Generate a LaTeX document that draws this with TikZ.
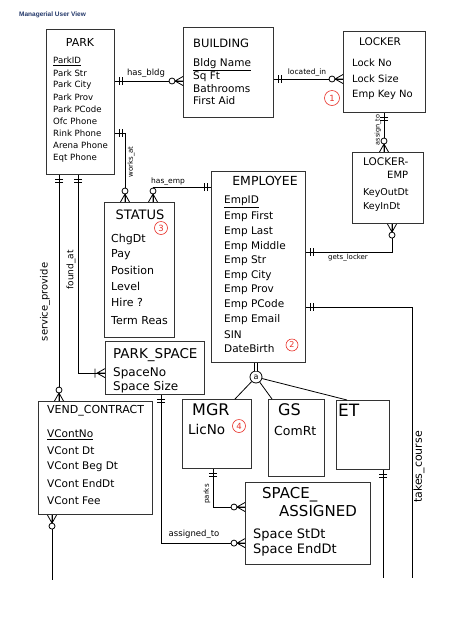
\documentclass[tikz,border=0pt]{standalone}
\usepackage{fontspec}
\setmainfont{DejaVu Sans}
\newfontfamily\hdrfont{Liberation Sans}
\usetikzlibrary{calc}
\newcommand{\myfs}[1]{\fontsize{#1}{#1}\selectfont}
\definecolor{hdrblue}{HTML}{23386A}
\definecolor{redmark}{HTML}{E8322A}
\begin{document}
\begin{tikzpicture}[x=1pt,y=-1pt,
  ent/.style={draw=black!80, line width=1.1pt, anchor=north west, inner sep=0},
  txt/.style={inner sep=0, anchor=west},
  conn/.style={line width=0.8pt},
  redc/.style={circle, draw=redmark, text=redmark, line width=0.6pt, inner sep=0, minimum size=13pt, font=\myfs{8.5}},
  erone/.pic={\draw[conn] (4,-4)--(4,4) (7,-4)--(7,4);},
  ermanyO/.pic={\draw[conn] (0,-4.5)--(8,0)--(0,4.5) (0,0)--(8,0); \draw[conn,fill=white] (11,0) circle (3);},
  ermanyI/.pic={\draw[conn] (0,-4.5)--(8,0)--(0,4.5) (0,0)--(8,0) (10,-4.5)--(10,4.5);}
]
\useasboundingbox[fill=white] (0,0) rectangle (456,630);

\node[txt, font=\hdrfont\bfseries\myfs{6.5}, text=hdrblue] (title) at (19,15) {Managerial User View};

% ---------- entity boxes ----------
\node[ent, minimum width=68pt, minimum height=145pt] (park) at (46,29) {};
\node[ent, minimum width=90pt, minimum height=90pt] (bldg) at (183,27) {};
\node[ent, minimum width=82pt, minimum height=81pt] (locker) at (343,31) {};
\node[ent, minimum width=71pt, minimum height=71pt] (lockemp) at (352,152) {};
\node[ent, minimum width=94pt, minimum height=191pt] (emp) at (211,171) {};
\node[ent, minimum width=70pt, minimum height=135pt] (status) at (104,202) {};
\node[ent, minimum width=99pt, minimum height=53pt] (pspace) at (105,341) {};
\node[ent, minimum width=114pt, minimum height=113pt] (vend) at (38,401) {};
\node[ent, minimum width=69pt, minimum height=69pt] (mgr) at (182,399) {};
\node[ent, minimum width=56pt, minimum height=77pt] (gs) at (268,399) {};
\node[ent, minimum width=53pt, minimum height=69pt] (et) at (336,400) {};
\node[ent, minimum width=125pt, minimum height=82pt] (sa) at (245,482) {};

% ---------- entity texts ----------
% PARK
\node[inner sep=0, font=\myfs{11}] (parkT) at (80,42) {PARK};
\foreach \t [count=\i] in {\underline{ParkID}, Park Str, Park City, Park Prov, Park PCode, Ofc Phone, Rink Phone, Arena Phone, Eqt Phone}
  \node[txt, font=\myfs{8.6}] (parkA\i) at (53,{61+(\i-1)*12.1}) {\t};
% BUILDING
\node[txt, font=\myfs{11.5}] (bldgT) at (193,43) {BUILDING};
\foreach \t [count=\i] in {\underline{Bldg Name}, Sq Ft, Bathrooms, First Aid}
  \node[txt, font=\myfs{10.5}] (bldgA\i) at (193,{65+(\i-1)*12}) {\t};
% LOCKER
\node[inner sep=0, font=\myfs{10.5}] (lockerT) at (380,42) {LOCKER};
\foreach \t [count=\i] in {Lock No, Lock Size, Emp Key No}
  \node[txt, font=\myfs{10}] (lockerA\i) at (352,{63+(\i-1)*16}) {\t};
\node[redc, minimum size=15pt] (r1) at (332,98) {1};
% LOCKER-EMP
\node[txt, font=\myfs{10.5}] (lockempT1) at (363,162) {LOCKER-};
\node[txt, font=\myfs{10}] (lockempT2) at (387,175) {EMP};
\node[txt, font=\myfs{9.5}] (lockempA1) at (363,193) {KeyOutDt};
\node[txt, font=\myfs{9.5}] (lockempA2) at (363,207) {KeyInDt};
% EMPLOYEE
\node[inner sep=0, font=\myfs{12.5}] (empT) at (265,181) {EMPLOYEE};
\foreach \t [count=\i] in {\underline{EmpID}, Emp First, Emp Last, Emp Middle, Emp Str, Emp City, Emp Prov, Emp PCode, Emp Email, SIN, DateBirth}
  \node[txt, font=\myfs{10.5}] (empA\i) at (224,{202+(\i-1)*14.7}) {\t};
\node[redc, minimum size=12pt, font=\myfs{8}] (r2) at (292,345) {2};
% STATUS
\node[inner sep=0, font=\myfs{13}] (statusT) at (140,215) {STATUS};
\foreach \t/\y [count=\i] in {ChgDt/239, Pay/255, Position/270, Level/286, Hire ?/302, Term Reas/321}
  \node[txt, font=\myfs{11}] (statusA\i) at (111,\y) {\t};
\node[redc] (r3) at (161,228) {3};
% PARK_SPACE
\node[txt, font=\myfs{13.5}] (pspaceT) at (113,355) {PARK\_SPACE};
\node[txt, font=\myfs{12}] (pspaceA1) at (113,373) {SpaceNo};
\node[txt, font=\myfs{12}] (pspaceA2) at (113,387) {Space Size};
% VEND_CONTRACT
\node[txt, font=\myfs{11}] (vendT) at (47,411) {VEND\_CONTRACT};
\foreach \t/\y [count=\i] in {\underline{VContNo}/435, VCont Dt/451, VCont Beg Dt/467, VCont EndDt/484, VCont Fee/501}
  \node[txt, font=\myfs{10.5}] (vendA\i) at (47,\y) {\t};
% MGR / GS / ET
\node[txt, font=\myfs{16}] (mgrT) at (192,410) {MGR};
\node[txt, font=\myfs{13.5}] (mgrA) at (188,429) {LicNo};
\node[redc] (r4) at (239,426) {4};
\node[txt, font=\myfs{16}] (gsT) at (278,410) {GS};
\node[txt, font=\myfs{12.5}] (gsA) at (274,431) {ComRt};
\node[txt, font=\myfs{17}] (etT) at (338,410) {ET};
% SPACE_ASSIGNED
\node[txt, font=\myfs{15}] (saT1) at (262,495) {SPACE\_};
\node[txt, font=\myfs{15}] (saT2) at (279,511) {ASSIGNED};
\node[txt, font=\myfs{13}] (saA1) at (253,535) {Space StDt};
\node[txt, font=\myfs{13}] (saA2) at (253,550) {Space EndDt};

% ---------- connectors ----------
% has_bldg
\coordinate (hb1) at ($(park.north east)+(0,52)$);
\draw[conn] (hb1) -- (hb1 -| bldg.west);
\pic at (hb1) {erone};
\pic[rotate=180] at (hb1 -| bldg.west) {ermanyO};
\node[inner sep=0, anchor=south, font=\myfs{8.5}] (lhb) at (146,78) {has\_bldg};
% located_in
\coordinate (li1) at ($(bldg.north east)+(0,52)$);
\draw[conn] (li1) -- (li1 -| locker.west);
\pic at (li1) {erone};
\pic[rotate=180] at (li1 -| locker.west) {ermanyO};
\node[inner sep=0, anchor=south, font=\myfs{7.5}] (lli) at (307,76) {located\_in};
% assign_to
\coordinate (as1) at ($(locker.south west)+(41,0)$);
\draw[conn] (as1) -- (as1 |- lockemp.north);
\pic[rotate=-90] at (as1) {erone};
\pic[rotate=90] at (as1 |- lockemp.north) {ermanyO};
\node[inner sep=0, rotate=90, font=\myfs{6.5}] (las) at (378,130) {assign\_to};
% gets_locker
\coordinate (gl1) at ($(emp.north east)+(0,81)$);
\coordinate (gl2) at ($(lockemp.south west)+(40,0)$);
\draw[conn] (gl1) -| (gl2);
\pic at (gl1) {erone};
\pic[rotate=-90] at (gl2) {ermanyO};
\node[inner sep=0, anchor=north, font=\myfs{7}] (lgl) at (348,254) {gets\_locker};
% works_at
\coordinate (wa1) at ($(park.north east)+(0,104)$);
\coordinate (wa2) at ($(status.north west)+(21,0)$);
\draw[conn] (wa1) -| (wa2);
\pic at (wa1) {erone};
\pic[rotate=90] at (wa2) {ermanyO};
\node[inner sep=0, rotate=90, font=\myfs{7}] (lwa) at (131,162) {works\_at};
% has_emp
\coordinate (he1) at ($(emp.north west)+(0,16)$);
\coordinate (he2) at ($(status.north west)+(49,0)$);
\draw[conn] (he1) -| (he2);
\pic[rotate=180] at (he1) {erone};
\pic[rotate=90] at (he2) {ermanyO};
\node[inner sep=0, anchor=south, font=\myfs{7.5}] (lhe) at (168,185) {has\_emp};
% service_provide
\coordinate (sp1) at ($(park.south west)+(13,0)$);
\draw[conn] (sp1) -- (sp1 |- vend.north);
\pic[rotate=-90] at (sp1) {erone};
\pic[rotate=90] at (sp1 |- vend.north) {ermanyO};
\node[inner sep=0, rotate=90, font=\myfs{10}] (lsp) at (45,302) {service\_provide};
% found_at
\coordinate (fa1) at ($(park.south west)+(32,0)$);
\coordinate (fa2) at ($(pspace.south west)+(0,-22)$);
\draw[conn] (fa1) |- (fa2);
\pic[rotate=-90] at (fa1) {erone};
\pic[rotate=180] at (fa2) {ermanyI};
\node[inner sep=0, rotate=90, font=\myfs{9}] (lfa) at (71,270) {found\_at};
% vend contract bottom
\coordinate (vb1) at ($(vend.south west)+(14,0)$);
\coordinate (vb2) at (52,580);
\draw[conn] (vb1) -- (vb2);
\pic[rotate=-90] at (vb1) {ermanyO};
% assigned_to
\coordinate (at1) at ($(pspace.south west)+(56,0)$);
\coordinate (at2) at ($(sa.south west)+(0,-22)$);
\draw[conn] (at1) |- (at2);
\pic[rotate=-90] at (at1) {erone};
\pic[rotate=180] at (at2) {ermanyO};
\node[inner sep=0, anchor=south, font=\myfs{8.5}] (lat) at (194,539) {assigned\_to};
% parks
\coordinate (pk1) at ($(mgr.south west)+(31,0)$);
\coordinate (pk2) at ($(sa.north west)+(0,25)$);
\draw[conn] (pk1) |- (pk2);
\pic[rotate=-90] at (pk1) {erone};
\pic[rotate=180] at (pk2) {ermanyO};
\node[inner sep=0, rotate=90, font=\myfs{7}] (lpk) at (207,494) {parks};
% ISA
\node[circle, draw, line width=0.8pt, inner sep=0, minimum size=12pt, font=\myfs{8}] (isa) at (256,377) {a};
\draw[conn, double, double distance=1.6pt] (emp.south -| isa) -- (isa);
\coordinate (im) at ($(mgr.north west)+(53,0)$);
\coordinate (ig) at ($(gs.north west)+(4,0)$);
\coordinate (ie) at ($(et.north west)+(11,0)$);
\draw[conn] (isa) -- (im);
\draw[conn] (isa) -- (ig);
\draw[conn] (isa) -- (ie);
% takes_course
\coordinate (tc1) at ($(emp.north east)+(0,136)$);
\coordinate (tc2) at (412,578);
\draw[conn] (tc1) -| (tc2);
\pic at (tc1) {erone};
\node[inner sep=0, rotate=90, font=\myfs{11}] (ltc) at (419,467) {takes\_course};
% ET bottom
\coordinate (et1) at ($(et.south west)+(47,0)$);
\coordinate (et2) at (383,578);
\draw[conn] (et1) -- (et2);
\pic[rotate=-90] at (et1) {erone};
\end{tikzpicture}
\end{document}
